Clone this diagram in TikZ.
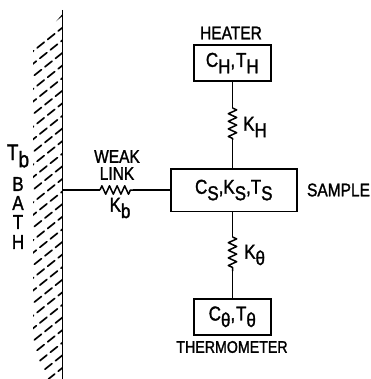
\documentclass[tikz,border=0pt]{standalone}
\usepackage{fontspec}
\setmainfont{Liberation Sans}[RawFeature={embolden=1.6}]
\usetikzlibrary{decorations.pathmorphing}
\newcommand{\dn}[1]{\raisebox{-0.32em}{#1}}
\newcommand{\tl}[1]{\scalebox{1}[1.18]{#1}}
\tikzset{
  x=1pt,y=-1pt,
  wire/.style={line width=1.5pt,line join=round},
  cell/.style={draw,line width=1.6pt,inner sep=0pt,anchor=north west,font=\fontsize{17}{17}\selectfont},
  lab/.style={inner sep=0pt,align=center,font=\fontsize{15.5}{17}\selectfont},
  big/.style={font=\fontsize{17}{17}\selectfont},
  spring/.style={wire,decorate,decoration={zigzag,amplitude=4.2pt,segment length=7.6pt}},
  hatch/.style={line width=1.7pt,dash pattern=on 9pt off 4.5pt,line cap=round}
}
\begin{document}
\begin{tikzpicture}
\useasboundingbox (0,0) rectangle (370,379);
\begin{scope}
  \clip (62.5,14) -- (62.5,379) -- (48,379) -- (33,347) -- (33,48) -- cycle;
  \foreach \y [evaluate=\y as \dd using {mod(\y,3)*3.5}] in {0,...,30}
    \draw[hatch,dash phase=\dd pt] (62.5,15+12.6*\y) -- (30,41+12.6*\y);
\end{scope}
\coordinate (walltop) at (62.5,10);
\coordinate (wallbot) at (62.5,379);
\draw[line width=1.9pt] (walltop) -- (wallbot);
\coordinate (wallp) at (62.5,190);

\node[cell,minimum width=77pt,minimum height=36.5pt] (heater) at (193,44) {\tl{C\dn{H},\kern.05em T\dn{H}}};
\node[cell,minimum width=126pt,minimum height=42.5pt] (sample) at (170,168) {\tl{C\dn{S},K\dn{S},T\dn{S}}};
\node[cell,minimum width=77pt,minimum height=36pt] (thermo) at (193,298) {\tl{C\dn{θ},\kern.05em T\dn{θ}}};

\coordinate (ha) at (232.5,108);
\coordinate (hb) at (232.5,140);
\coordinate (ta) at (232.5,237);
\coordinate (tb) at (232.5,271);
\coordinate (wa) at (100,190);
\coordinate (wb) at (133,190);
\draw[wire] (heater.south -| ha) -- (ha);
\draw[spring] (ha) -- (hb);
\draw[wire] (hb) -- (sample.north -| hb);
\draw[wire] (sample.south -| ta) -- (ta);
\draw[spring] (ta) -- (tb);
\draw[wire] (tb) -- (thermo.north -| tb);
\draw[wire] (wallp) -- (wa);
\draw[spring] (wa) -- (wb);
\draw[wire] (wb) -- (sample.west |- wb);

\node[lab] (lheater) at (231,33) {\tl{HEATER}};
\node[lab] (lsample) at (338.5,190) {\tl{SAMPLE}};
\node[lab] (lthermo) at (232,347) {\fontsize{14.2}{15}\selectfont \tl{THERMOMETER}};
\node[lab] (lweak) at (117,165) {\tl{WEAK}\\\tl{LINK}};
\node[lab,big] (lkb) at (120,208) {\tl{K\dn{b}}};
\node[lab,anchor=west,big] (lkh) at (243,127) {\tl{K\dn{H}}};
\node[lab,anchor=west,big] (lkt) at (244,255) {\tl{K\dn{θ}}};
\node[lab,font=\fontsize{19}{19}\selectfont] (ltb) at (18,156) {\tl{T\dn{b}}};
\node[lab,big] (lb) at (18,184) {\tl{B}};
\node[lab,big] (la) at (18,203) {\tl{A}};
\node[lab,big] (lt) at (18,222) {\tl{T}};
\node[lab,big] (lh) at (18,242) {\tl{H}};
\end{tikzpicture}
\end{document}
